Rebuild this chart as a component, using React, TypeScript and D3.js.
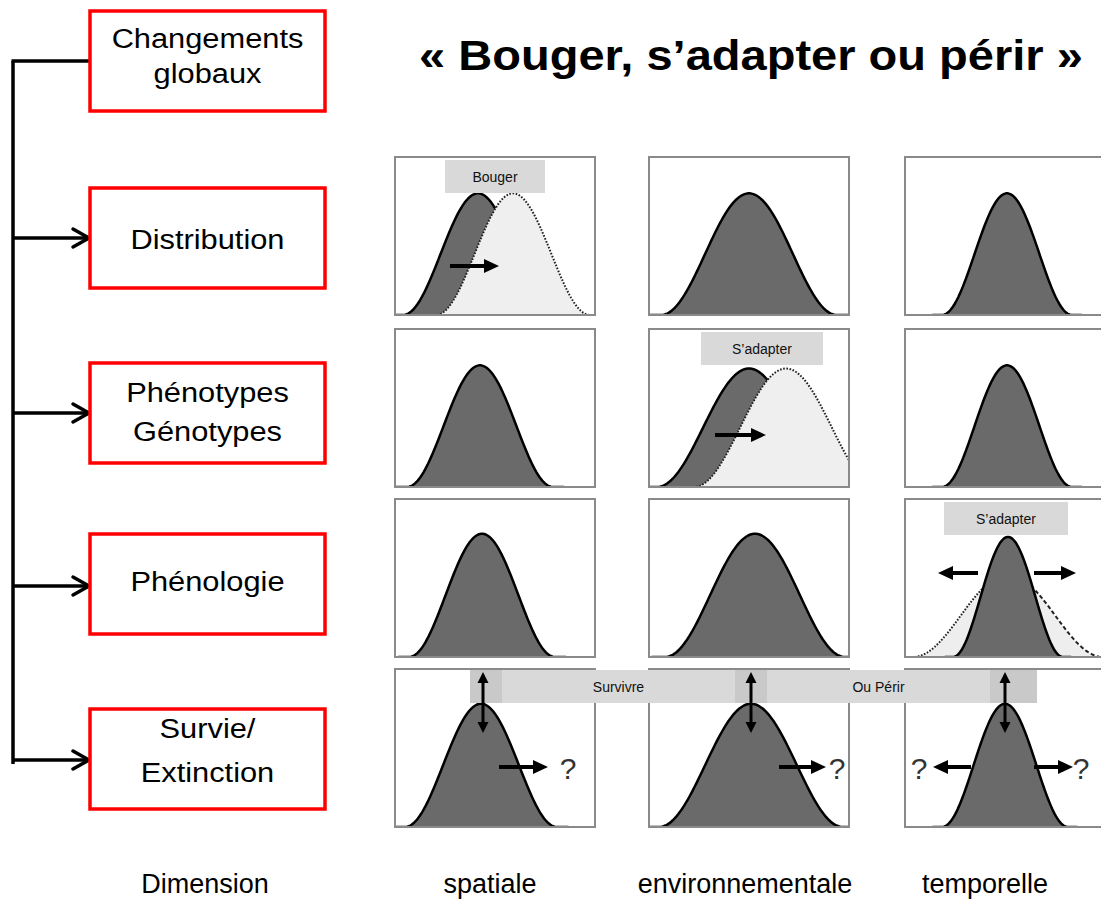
import React from "react";
import * as d3 from "d3";

// ---------- data ----------
const titleText = "« Bouger, s’adapter ou périr »";
const leftCategories: string[][] = [
  ["Changements", "globaux"],
  ["Distribution"],
  ["Phénotypes", "Génotypes"],
  ["Phénologie"],
  ["Survie/", "Extinction"],
];
const dimensionLabels = ["Dimension", "spatiale", "environnementale", "temporelle"];

// distribution curves per panel: center & half-width in panel units (0-100), peak relative height (0-1)
const curveRow = [0, 0, 0, 0, 1, 1, 1, 1, 2, 2, 2, 2, 3, 3, 3];
const curveCol = [0, 0, 1, 2, 0, 1, 1, 2, 0, 1, 2, 2, 0, 1, 2];
const curveCenter = [41.5, 59, 50, 51, 42.5, 50, 68.5, 51, 43.5, 53, 51.5, 51.5, 43, 51, 50];
const curveHalfWidth = [37.5, 38.5, 44, 32.5, 36.5, 46, 46, 32.5, 36.5, 45, 47.5, 27.5, 38, 46, 31.5];
const curvePeak = [0.77, 0.77, 0.77, 0.77, 0.77, 0.75, 0.75, 0.77, 0.78, 0.78, 0.52, 0.76, 0.78, 0.78, 0.78];
const curveKind = ["dark", "dotted", "dark", "dark", "dark", "dark", "dotted", "dark", "dark", "dark", "wide", "dark", "dark", "dark", "dark"];

// panel tags
const tagRow = [0, 1, 2];
const tagCol = [0, 1, 2];
const tagText = ["Bouger", "S’adapter", "S’adapter"];
const tagX0 = [25, 26, 19.5];
const tagX1 = [75, 87, 81.5];

const bottomBarTexts = ["Survivre", "Ou Périr"];

// ---------- layout ----------
const W = 1101, H = 901;
const PW = 200, PH = 158;
const colX = [395, 649, 905];
const rowY = [157, 329, 499, 669];
const boxX0 = 90, boxX1 = 325;
const boxTop = [11, 188, 363, 534, 709];
const boxH = 100;
const boxBaselines = [[48, 83], [249], [402, 441], [591], [738, 782]];
const arrowYs = [238, 413, 586, 760];
const dimX = [205, 490, 745, 985];

const xs = d3.scaleLinear().domain([0, 100]).range([0, PW]);
const ys = d3.scaleLinear().domain([0, 1]).range([PH, 0]);

function bumpPoints(c: number, w: number, peak: number, from = -1.15, to = 1.15) {
  const pts: [number, number][] = d3
    .range(c + from * w, c + to * w + 1e-6, w / 50)
    .map((x) => [x, Math.abs(x - c) < w ? (peak * (1 + Math.cos((Math.PI * (x - c)) / w))) / 2 : 0]);
  return pts;
}

const lineGen = d3
  .line<[number, number]>()
  .x((d) => xs(d[0]))
  .y((d) => ys(d[1]));
const areaGen = d3
  .area<[number, number]>()
  .x((d) => xs(d[0]))
  .y0(ys(0))
  .y1((d) => ys(d[1]));

function Arrow({ x1, y1, x2, y2, w = 4, head = 15, hw = 7 }: any) {
  const a = Math.atan2(y2 - y1, x2 - x1);
  const bx = x2 - head * Math.cos(a), by = y2 - head * Math.sin(a);
  const px = -Math.sin(a) * hw, py = Math.cos(a) * hw;
  return (
    <g>
      <line x1={x1} y1={y1} x2={bx + Math.cos(a) * 2} y2={by + Math.sin(a) * 2} stroke="#000" strokeWidth={w} />
      <polygon points={`${x2},${y2} ${bx + px},${by + py} ${bx - px},${by - py}`} fill="#000" />
    </g>
  );
}

function Curve({ i }: { i: number }) {
  const c = curveCenter[i], w = curveHalfWidth[i], p = curvePeak[i], kind = curveKind[i];
  const pts = bumpPoints(c, w, p);
  if (kind === "dark") {
    return (
      <g>
        <path d={areaGen(pts) || ""} fill="#6a6a6a" />
        <path d={lineGen(pts) || ""} fill="none" stroke="#000" strokeWidth={2.5} />
      </g>
    );
  }
  if (kind === "dotted") {
    return (
      <g>
        <path d={areaGen(pts) || ""} fill="#efefef" />
        <path d={lineGen(pts) || ""} fill="none" stroke="#222" strokeWidth={2} strokeDasharray="1.6,1.6" />
      </g>
    );
  }
  const left = bumpPoints(c, w, p, -1.15, 0);
  const right = bumpPoints(c, w, p, 0, 1.15);
  return (
    <g>
      <path d={areaGen(pts) || ""} fill="#eeeeee" />
      <path d={lineGen(left) || ""} fill="none" stroke="#222" strokeWidth={2} strokeDasharray="1.6,1.6" />
      <path d={lineGen(right) || ""} fill="none" stroke="#222" strokeWidth={2} strokeDasharray="4,2.5" />
    </g>
  );
}

function Tag({ x0, x1, y0, y1, text }: any) {
  return (
    <g>
      <rect x={x0} y={y0} width={x1 - x0} height={y1 - y0} fill="#d9d9d9" />
      <text x={(x0 + x1) / 2} y={(y0 + y1) / 2 + 5} textAnchor="middle" fontSize={14} fontFamily="Liberation Sans, Arial, sans-serif" fill="#111">
        {text}
      </text>
    </g>
  );
}

export default function App() {
  const font = "Liberation Sans, Arial, sans-serif";
  const panels: { r: number; c: number }[] = [];
  for (let r = 0; r < 4; r++) for (let c = 0; c < 3; c++) panels.push({ r, c });

  return (
    <svg width={W} height={H} style={{ position: "absolute", left: 0, top: 0, background: "#fff" }} fontFamily={font}>
      <rect width={W} height={H} fill="#fff" />
      <defs>
        {panels.map(({ r, c }) => (
          <clipPath key={`cp${r}${c}`} id={`clip-${r}-${c}`}>
            <rect x={0} y={0} width={PW} height={PH} />
          </clipPath>
        ))}
      </defs>

      {/* title */}
      <text x={751} y={70} textAnchor="middle" fontSize={42} fontWeight="bold" fill="#000" transform="translate(751,0) scale(1.12,1) translate(-751,0)">
        {titleText}
      </text>

      {/* left hierarchy */}
      <line x1={13} y1={61} x2={13} y2={764} stroke="#000" strokeWidth={3.5} />
      <line x1={11.5} y1={61} x2={92} y2={61} stroke="#000" strokeWidth={3.5} />
      {arrowYs.map((y, i) => (
        <g key={`la${i}`}>
          <line x1={13} y1={y} x2={88} y2={y} stroke="#000" strokeWidth={3.5} />
          <polyline points={`${73},${y - 9} ${89},${y} ${73},${y + 9}`} fill="none" stroke="#000" strokeWidth={3.5} strokeLinecap="round" strokeLinejoin="round" />
        </g>
      ))}
      {leftCategories.map((lines, i) => (
        <g key={`box${i}`}>
          <rect x={boxX0} y={boxTop[i]} width={boxX1 - boxX0} height={boxH} fill="#fff" stroke="#ff0000" strokeWidth={3.5} />
          {lines.map((t, j) => {
            const cx = (boxX0 + boxX1) / 2;
            return (
              <text key={j} x={cx} y={boxBaselines[i][j]} textAnchor="middle" fontSize={28} fill="#000" transform={`translate(${cx},0) scale(1.1,1) translate(${-cx},0)`}>
                {t}
              </text>
            );
          })}
        </g>
      ))}

      {/* panels */}
      {panels.map(({ r, c }) => {
        const idx = d3.range(curveRow.length).filter((k) => curveRow[k] === r && curveCol[k] === c);
        return (
          <g key={`p${r}${c}`} transform={`translate(${colX[c]},${rowY[r]})`}>
            <g clipPath={`url(#clip-${r}-${c})`}>
              <rect x={0} y={0} width={PW} height={PH} fill="#fff" />
              {idx.map((k) => (
                <Curve key={k} i={k} />
              ))}
            </g>
            <rect x={0} y={0} width={PW} height={PH} fill="none" stroke="#8a8a8a" strokeWidth={2} />
          </g>
        );
      })}

      {/* panel tags and arrows */}
      {tagText.map((t, i) => (
        <g key={`tag${i}`} transform={`translate(${colX[tagCol[i]]},${rowY[tagRow[i]]})`}>
          <Tag x0={xs(tagX0[i])} x1={xs(tagX1[i])} y0={3} y1={36} text={t} />
        </g>
      ))}
      <g transform={`translate(${colX[0]},${rowY[0]})`}>
        <Arrow x1={55} y1={109} x2={104} y2={109} />
      </g>
      <g transform={`translate(${colX[1]},${rowY[1]})`}>
        <Arrow x1={66} y1={106} x2={117} y2={106} />
      </g>
      <g transform={`translate(${colX[2]},${rowY[2]})`}>
        <Arrow x1={73} y1={74} x2={33} y2={74} />
        <Arrow x1={129} y1={74} x2={171} y2={74} />
      </g>

      {/* bottom row bars */}
      <rect x={470} y={670} width={567} height={33} fill="#c9c9c9" />
      <Tag x0={502} x1={735} y0={670} y1={703} text={bottomBarTexts[0]} />
      <Tag x0={767} x1={990} y0={670} y1={703} text={bottomBarTexts[1]} />

      {/* bottom row arrows */}
      {[0, 1, 2].map((c) => {
        const cx = colX[c] + xs(curveCenter[12 + c]) + (c === 0 ? 2 : 0);
        return (
          <g key={`va${c}`}>
            <Arrow x1={cx} y1={700} x2={cx} y2={672} w={3} head={11} hw={5.5} />
            <Arrow x1={cx} y1={700} x2={cx} y2={733} w={3} head={11} hw={5.5} />
          </g>
        );
      })}
      <g transform={`translate(${colX[0]},${rowY[3]})`}>
        <Arrow x1={104} y1={98} x2={153} y2={98} />
        <text x={173} y={110} textAnchor="middle" fontSize={30} fill="#333">?</text>
      </g>
      <g transform={`translate(${colX[1]},${rowY[3]})`}>
        <Arrow x1={130} y1={98} x2={177} y2={98} />
        <text x={188} y={110} textAnchor="middle" fontSize={30} fill="#333">?</text>
      </g>
      <g transform={`translate(${colX[2]},${rowY[3]})`}>
        <Arrow x1={66} y1={98} x2={28} y2={98} />
        <text x={14} y={110} textAnchor="middle" fontSize={30} fill="#333">?</text>
        <Arrow x1={129} y1={98} x2={168} y2={98} />
        <text x={176} y={110} textAnchor="middle" fontSize={30} fill="#333">?</text>
      </g>

      {/* dimension labels */}
      {dimensionLabels.map((t, i) => (
        <text key={`d${i}`} x={dimX[i]} y={893} textAnchor="middle" fontSize={27} fill="#000">
          {t}
        </text>
      ))}
    </svg>
  );
}
